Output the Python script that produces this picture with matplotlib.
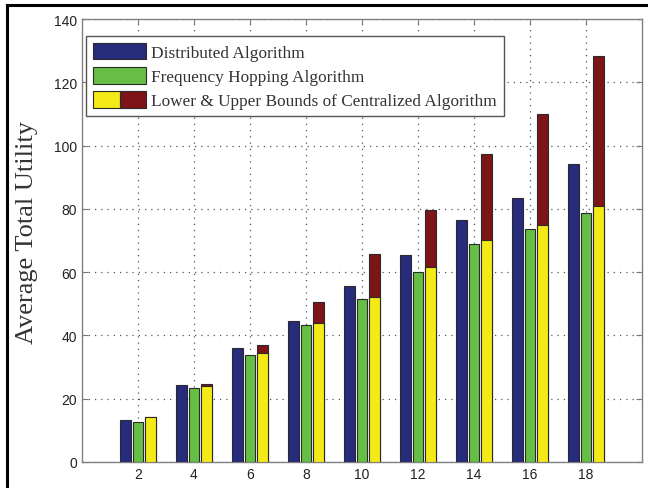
import matplotlib
matplotlib.use("Agg")
import matplotlib.pyplot as plt
import numpy as np
from matplotlib.patches import Patch
from matplotlib.legend_handler import HandlerTuple
from matplotlib.lines import Line2D

# number of users on the x axis
users = [2, 4, 6, 8, 10, 12, 14, 16, 18]
distributed = [13.4, 24.3, 36.0, 44.5, 55.7, 65.4, 76.5, 83.3, 94.1]
freq_hopping = [12.5, 23.3, 33.8, 43.3, 51.5, 60.0, 68.9, 73.6, 78.6]
central_lower = [14.1, 24.1, 34.4, 43.8, 52.2, 61.5, 70.2, 74.9, 81.0]
central_upper = [14.1, 24.6, 37.0, 50.5, 65.7, 79.6, 97.3, 110.0, 128.4]

c_blue = "#272b7c"
c_green = "#66bf44"
c_yellow = "#f4ea18"
c_red = "#7d1518"
edge = "#2a2a2a"

fig = plt.figure(figsize=(6.48, 4.89), dpi=100)
ax = fig.add_axes([82 / 648, 1 - 463 / 489, 560 / 648, 443 / 489])

x = np.array(users, dtype=float)
w = 0.38
off = 0.45
ax.bar(x - off, distributed, w, color=c_blue, edgecolor=edge, linewidth=0.8, zorder=3)
ax.bar(x, freq_hopping, w, color=c_green, edgecolor=edge, linewidth=0.8, zorder=3)
ax.bar(x + off, central_upper, w, color=c_red, edgecolor=edge, linewidth=0.8, zorder=3)
ax.bar(x + off, central_lower, w, color=c_yellow, edgecolor=edge, linewidth=0.8, zorder=4)

ax.set_xlim(0, 20)
ax.set_ylim(0, 140)
ax.set_xticks(users)
ax.set_yticks(np.arange(0, 141, 20))
ax.tick_params(direction="in", top=True, right=True, length=4, color="#777777",
               labelsize=10, labelcolor="#222222")
for lbl in ax.get_xticklabels() + ax.get_yticklabels():
    lbl.set_family("Liberation Sans")
for s in ax.spines.values():
    s.set_color("#808080")
    s.set_linewidth(1.0)
ax.grid(True, linestyle=(0, (1, 4)), color="#555555", linewidth=0.9, zorder=0)
ax.set_axisbelow(True)

ax.set_ylabel("Average Total Utility", family="Liberation Serif", fontsize=19,
              color="#333333")
ax.yaxis.set_label_coords(-0.078, 0.52)

handles = [
    Patch(facecolor=c_blue, edgecolor=edge, linewidth=0.8),
    Patch(facecolor=c_green, edgecolor=edge, linewidth=0.8),
    (Patch(facecolor=c_yellow, edgecolor=edge, linewidth=0.8),
     Patch(facecolor=c_red, edgecolor=edge, linewidth=0.8)),
]
labels = ["Distributed Algorithm", "Frequency Hopping Algorithm",
          "Lower & Upper Bounds of Centralized Algorithm"]
leg = ax.legend(handles, labels, loc="upper left",
                bbox_to_anchor=(4 / 560, 1 - 17 / 443), borderaxespad=0,
                handler_map={tuple: HandlerTuple(ndivide=None, pad=0)},
                prop={"family": "Liberation Serif", "size": 12.4},
                handlelength=3.1, handleheight=1.1, labelspacing=0.35,
                handletextpad=0.3, borderpad=0.4, fancybox=False,
                framealpha=1, edgecolor="#555555")
leg.get_frame().set_linewidth(1.0)
for t in leg.get_texts():
    t.set_color("#333333")

# border lines along the top and left of the figure
fig.add_artist(Line2D([7 / 648, 1], [1 - 6 / 489, 1 - 6 / 489], color="black",
                      linewidth=2.2, transform=fig.transFigure))
fig.add_artist(Line2D([7 / 648, 7 / 648], [0, 1 - 6 / 489], color="black",
                      linewidth=2.2, transform=fig.transFigure))

fig.savefig("out.png", dpi=100)
